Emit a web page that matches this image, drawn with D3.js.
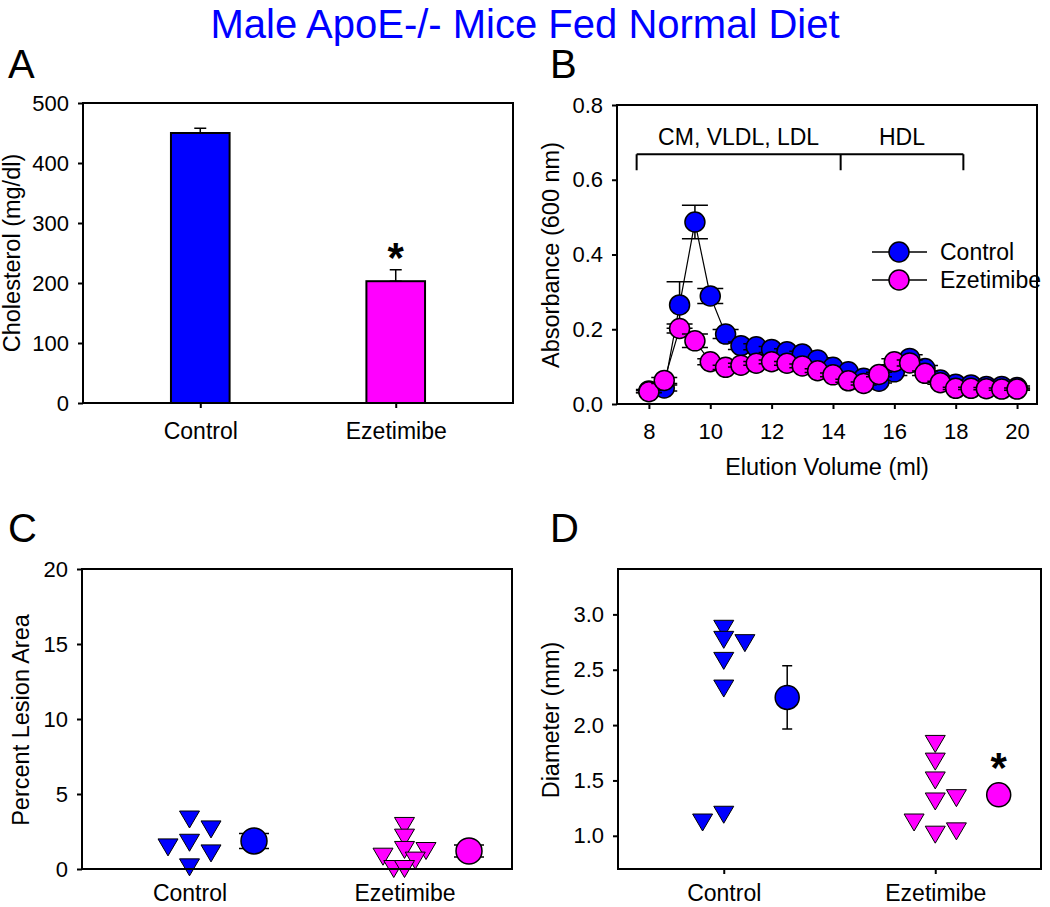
<!DOCTYPE html>
<html>
<head>
<meta charset="utf-8">
<script src="https://cdn.jsdelivr.net/npm/d3@7"></script>
<style>
  body { margin: 0; background: #fff; }
  text { font-family: "Liberation Sans", Arial, sans-serif; fill: #000; }
</style>
</head>
<body>
<script>
// groups shared by all four panels
let groups = ['Control', 'Ezetimibe']
let groupColors = ['#0000ff', '#ff00ff']

// A - plasma cholesterol
let cholMean = [450, 203]
let cholErr = [8, 19]
let cholTicks = [0, 100, 200, 300, 400, 500]

// B - FPLC profile
let elution = [8, 8.5, 9, 9.5, 10, 10.5, 11, 11.5, 12, 12.5, 13, 13.5, 14, 14.5, 15, 15.5, 16, 16.5, 17, 17.5, 18, 18.5, 19, 19.5, 20]
let absControl = [0.035, 0.043, 0.265, 0.487, 0.289, 0.187, 0.156, 0.153, 0.146, 0.140, 0.134, 0.118, 0.098, 0.086, 0.069, 0.061, 0.086, 0.122, 0.095, 0.064, 0.053, 0.051, 0.047, 0.047, 0.044]
let absControlErr = [0.004, 0.008, 0.062, 0.045, 0.02, 0.012, 0.01, 0.008, 0.008, 0.008, 0.007, 0.006, 0.006, 0.005, 0.005, 0.005, 0.01, 0.01, 0.008, 0.006, 0.004, 0.004, 0.004, 0.004, 0.004]
let absEzet = [0.033, 0.063, 0.202, 0.169, 0.113, 0.098, 0.104, 0.109, 0.113, 0.109, 0.102, 0.089, 0.078, 0.062, 0.055, 0.079, 0.113, 0.110, 0.082, 0.057, 0.042, 0.042, 0.041, 0.040, 0.040]
let absEzetErr = [0.003, 0.008, 0.012, 0.018, 0.008, 0.006, 0.005, 0.005, 0.005, 0.005, 0.005, 0.005, 0.005, 0.004, 0.004, 0.006, 0.008, 0.008, 0.006, 0.004, 0.003, 0.003, 0.003, 0.003, 0.003]
let absTicks = [0, 0.2, 0.4, 0.6, 0.8]
let elutionTicks = [8, 10, 12, 14, 16, 18, 20]
let fractionEdges = [7.6, 14.25, 18.25]
let fractionNames = ['CM, VLDL, LDL', 'HDL']
let fractionLevel = 0.668

// C - percent lesion area (jitter = x offset inside the group)
let lesionControl = [3.3, 2.64, 1.75, 1.44, 1.04, 0.11]
let lesionControlJitter = [0, 0.1, 0, -0.1, 0.1, 0]
let lesionEzet = [2.87, 2.09, 1.27, 1.2, 0.82, 0.56, 0, 0]
let lesionEzetJitter = [0, 0, 0, 0.1, -0.1, 0.05, -0.05, 0]
let lesionMean = [1.87, 1.2]
let lesionErr = [0.5, 0.4]
let lesionTicks = [0, 5, 10, 15, 20]

// D - diameter
let diamControl = [2.87, 2.77, 2.74, 2.58, 2.33, 1.19, 1.12]
let diamControlJitter = [0, 0, 0.1, 0, 0, 0, -0.1]
let diamEzet = [1.83, 1.67, 1.50, 1.31, 1.34, 1.12, 1.01, 1.04]
let diamEzetJitter = [0, 0, 0, 0, 0.1, -0.1, 0, 0.1]
let diamMean = [2.25, 1.37]
let diamErr = [0.285, 0.03]
let diamTicks = [1.0, 1.5, 2.0, 2.5, 3.0]

let meanOffset = 0.3

let svg = d3.select('body').append('svg')
            .attr('width', 1050)
            .attr('height', 907)

// title
svg.append('text')
   .attr('x', 525).attr('y', 38)
   .attr('text-anchor', 'middle')
   .attr('font-size', 40)
   .style('fill', '#0000ff')
   .text('Male ApoE-/- Mice Fed Normal Diet')

// panel letters
;[['A', 8, 78], ['B', 550, 78], ['C', 8, 542], ['D', 550, 542]].forEach(p => {
  svg.append('text').attr('x', p[1]).attr('y', p[2]).attr('font-size', 40).text(p[0])
})

function frame(x, y) {
  svg.append('rect')
     .attr('x', x.range()[0]).attr('y', y.range()[1])
     .attr('width', x.range()[1] - x.range()[0])
     .attr('height', y.range()[0] - y.range()[1])
     .attr('fill', 'none').attr('stroke', '#000').attr('stroke-width', 2)
}

function styleAxis(g, size) {
  g.select('.domain').remove()
  g.attr('font-family', '"Liberation Sans", Arial, sans-serif').attr('font-size', size)
  g.selectAll('line').attr('stroke-width', 2)
  g.selectAll('text').style('fill', '#000')
}

function yAxis(y, x0, ticks, fmt) {
  let g = svg.append('g')
             .attr('transform', 'translate(' + x0 + ',0)')
             .call(d3.axisLeft(y).tickValues(ticks).tickFormat(fmt).tickSize(5).tickPadding(9))
  styleAxis(g, 22)
}

function xAxis(x, y0, ticks, fmt, size, tick, pad) {
  let g = svg.append('g')
             .attr('transform', 'translate(0,' + y0 + ')')
             .call(d3.axisBottom(x).tickValues(ticks).tickFormat(fmt).tickSize(tick).tickPadding(pad))
  styleAxis(g, size)
  if (tick === 0) g.selectAll('line').remove()
}

function yTitle(text, x, y) {
  svg.append('text')
     .attr('transform', 'translate(' + x + ',' + y + ') rotate(-90)')
     .attr('text-anchor', 'middle')
     .attr('font-size', 23.5)
     .text(text)
}

function errorBar(g, x, yLo, yHi, cap) {
  g.append('path')
   .attr('d', 'M' + x + ',' + yLo + 'V' + yHi +
              'M' + (x - cap) + ',' + yLo + 'H' + (x + cap) +
              'M' + (x - cap) + ',' + yHi + 'H' + (x + cap))
   .attr('stroke', '#000').attr('stroke-width', 1.5).attr('fill', 'none')
}

let catLabel = (d, i) => groups[i]

// ---------- A: bars ----------
let xA = d3.scaleLinear().domain([0.4, 2.6]).range([83, 513])
let yA = d3.scaleLinear().domain([0, 500]).range([403, 103])
let barW = xA(1.3) - xA(1)

cholMean.forEach((v, i) => {
  let cx = xA(i + 1)
  errorBar(svg, cx, yA(v), yA(v + cholErr[i]), 6)
  svg.append('rect')
     .attr('x', cx - barW / 2).attr('y', yA(v))
     .attr('width', barW).attr('height', yA(0) - yA(v))
     .attr('fill', groupColors[i]).attr('stroke', '#000').attr('stroke-width', 2)
})
frame(xA, yA)
yAxis(yA, 83, cholTicks, d3.format('d'))
xAxis(xA, 403, [1, 2], catLabel, 23, 5, 15)
yTitle('Cholesterol (mg/dl)', 20, 253)
svg.append('text')
   .attr('x', xA(2)).attr('y', yA(cholMean[1] + cholErr[1]) + 2)
   .attr('text-anchor', 'middle').attr('font-size', 42).attr('font-weight', 'bold')
   .text('*')

// ---------- B: elution profile ----------
let xB = d3.scaleLinear().domain([6.96, 20.65]).range([617, 1037])
let yB = d3.scaleLinear().domain([0, 0.8]).range([404, 105])

let series = [[absControl, absControlErr], [absEzet, absEzetErr]]
series.forEach((s, k) => {
  let g = svg.append('g')
  g.append('path')
   .datum(s[0])
   .attr('d', d3.line().x((d, i) => xB(elution[i])).y(d => yB(d)))
   .attr('fill', 'none').attr('stroke', '#000').attr('stroke-width', 1.2)
  s[0].forEach((v, i) => {
    errorBar(g, xB(elution[i]), yB(v - s[1][i]), yB(v + s[1][i]), 13)
    g.append('circle')
     .attr('cx', xB(elution[i])).attr('cy', yB(v)).attr('r', 10)
     .attr('fill', groupColors[k]).attr('stroke', '#000').attr('stroke-width', 1.5)
  })
})
frame(xB, yB)
yAxis(yB, 617, absTicks, d3.format('.1f'))
xAxis(xB, 404, elutionTicks, d3.format('d'), 22, 5, 14)
yTitle('Absorbance (600 nm)', 559, 255)
svg.append('text')
   .attr('x', (xB.range()[0] + xB.range()[1]) / 2).attr('y', 475)
   .attr('text-anchor', 'middle').attr('font-size', 23.5)
   .text('Elution Volume (ml)')

// fraction bracket
let bTop = yB(fractionLevel)
let bracket = 'M' + xB(fractionEdges[0]) + ',' + bTop + 'H' + xB(fractionEdges[2])
fractionEdges.forEach(e => { bracket += 'M' + xB(e) + ',' + bTop + 'v16' })
svg.append('path').attr('d', bracket).attr('fill', 'none').attr('stroke', '#000').attr('stroke-width', 2)
fractionNames.forEach((n, i) => {
  svg.append('text')
     .attr('x', xB((fractionEdges[i] + fractionEdges[i + 1]) / 2)).attr('y', bTop - 9)
     .attr('text-anchor', 'middle').attr('font-size', 23)
     .text(n)
})

// legend
groups.forEach((name, i) => {
  let ly = 252 + i * 28
  svg.append('line').attr('x1', 872).attr('x2', 927).attr('y1', ly).attr('y2', ly)
     .attr('stroke', '#000').attr('stroke-width', 1.5)
  svg.append('circle').attr('cx', 899).attr('cy', ly).attr('r', 10)
     .attr('fill', groupColors[i]).attr('stroke', '#000').attr('stroke-width', 1.5)
  svg.append('text').attr('x', 940).attr('y', ly).attr('dy', '0.35em')
     .attr('font-size', 23).text(name)
})

// ---------- C and D: scatter with means ----------
let tri = 'M-10,-8.5L10,-8.5L0,8.5Z'

function scatterPanel(x, y, pts, means, errs, capW, r) {
  pts.forEach((p, k) => {
    p[0].forEach((v, i) => {
      svg.append('path')
         .attr('d', tri)
         .attr('transform', 'translate(' + x(k + 1 + p[1][i]) + ',' + y(v) + ')')
         .attr('fill', groupColors[k]).attr('stroke', '#000').attr('stroke-width', 1)
    })
  })
  means.forEach((m, k) => {
    let cx = x(k + 1 + meanOffset)
    errorBar(svg, cx, y(m - errs[k]), y(m + errs[k]), capW)
    svg.append('circle').attr('cx', cx).attr('cy', y(m)).attr('r', r)
       .attr('fill', groupColors[k]).attr('stroke', '#000').attr('stroke-width', 1.5)
  })
}

let xC = d3.scaleLinear().domain([0.5, 2.5]).range([82, 512])
let yC = d3.scaleLinear().domain([0, 20]).range([869, 569])
scatterPanel(xC, yC, [[lesionControl, lesionControlJitter], [lesionEzet, lesionEzetJitter]], lesionMean, lesionErr, 15, 13)
frame(xC, yC)
yAxis(yC, 82, lesionTicks, d3.format('d'))
xAxis(xC, 869, [1, 2], catLabel, 23, 0, 16)
yTitle('Percent Lesion Area', 29, 720)

let xD = d3.scaleLinear().domain([0.5, 2.5]).range([618, 1041])
let yD = d3.scaleLinear().domain([0.7, 3.41]).range([869, 569])
scatterPanel(xD, yD, [[diamControl, diamControlJitter], [diamEzet, diamEzetJitter]], diamMean, diamErr, 5, 12)
frame(xD, yD)
yAxis(yD, 618, diamTicks, d3.format('.1f'))
xAxis(xD, 869, [1, 2], catLabel, 23, 5, 11)
yTitle('Diameter (mm)', 559, 720)
svg.append('text')
   .attr('x', xD(2 + meanOffset)).attr('y', yD(diamMean[1]) - 13)
   .attr('text-anchor', 'middle').attr('font-size', 42).attr('font-weight', 'bold')
   .text('*')
</script>
</body>
</html>
